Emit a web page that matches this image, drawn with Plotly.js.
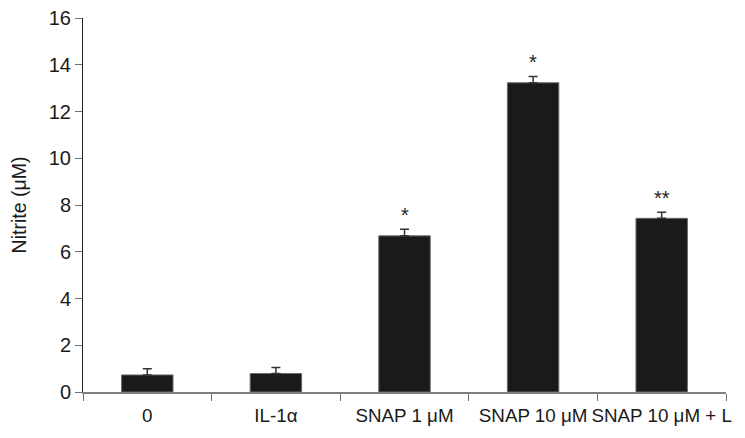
<!DOCTYPE html>
<html>
<head>
<meta charset="utf-8">
<script src="https://cdn.plot.ly/plotly-3.0.1.min.js"></script>
<style>html,body{margin:0;padding:0;background:#fff;}#chart{width:745px;height:438px;}</style>
</head>
<body>
<div id="chart"></div>
<script>
var categories = ["0", "IL-1α", "SNAP 1 μM", "SNAP 10 μM", "SNAP 10 μM + L"];
var nitrite = [0.73, 0.79, 6.68, 13.23, 7.43];
var sem = [0.26, 0.26, 0.28, 0.27, 0.26];
var significance = ["", "", "*", "*", "**"];
var yTicks = [0, 2, 4, 6, 8, 10, 12, 14, 16];

var FONT = "Liberation Sans, Arial, Helvetica, sans-serif";

var trace = {
  type: "bar",
  x: categories,
  y: nitrite,
  width: 0.4,
  marker: {color: "#1a1a1a", line: {color: "#6a6a6a", width: 1}},
  error_y: {
    type: "data",
    symmetric: false,
    array: sem,
    arrayminus: sem.map(function(){return 0;}),
    color: "#333333",
    thickness: 1.5,
    width: 4.5
  },
  hoverinfo: "none"
};

var annotations = [];
categories.forEach(function(c, i){
  if (significance[i]) {
    annotations.push({
      x: c, y: nitrite[i] + sem[i] + 0.82,
      xref: "x", yref: "y",
      text: significance[i],
      showarrow: false,
      yshift: -5,
      font: {family: FONT, size: 20, color: "#222"}
    });
  }
});

var layout = {
  width: 745, height: 438,
  margin: {l: 83, r: 19, t: 18.3, b: 46.3},
  paper_bgcolor: "#fff", plot_bgcolor: "#fff",
  showlegend: false,
  font: {family: FONT, size: 18, color: "#1a1a1a"},
  xaxis: {
    type: "category",
    range: [-0.5, 4.5],
    showline: true, linecolor: "#808080", linewidth: 1.5,
    ticks: "outside", tickson: "boundaries", ticklen: 7, tickwidth: 1, tickcolor: "#707070",
    showgrid: false, zeroline: false,
    tickangle: 0,
    ticklabelstandoff: 6,
    tickfont: {family: FONT, size: 18.8, color: "#1a1a1a"}
  },
  yaxis: {
    range: [0, 16],
    tickvals: yTicks,
    ticktext: yTicks.map(String),
    showline: true, linecolor: "#222", linewidth: 1,
    ticks: "outside", ticklen: 7, tickwidth: 1, tickcolor: "#707070",
    showgrid: false, zeroline: false,
    tickfont: {family: FONT, size: 20, color: "#1a1a1a"},
    title: {text: "Nitrite (μM)", font: {family: FONT, size: 19.5, color: "#1a1a1a"}, standoff: 16}
  },
  annotations: annotations
};

Plotly.newPlot("chart", [trace], layout, {displayModeBar: false, staticPlot: true});
</script>
</body>
</html>
